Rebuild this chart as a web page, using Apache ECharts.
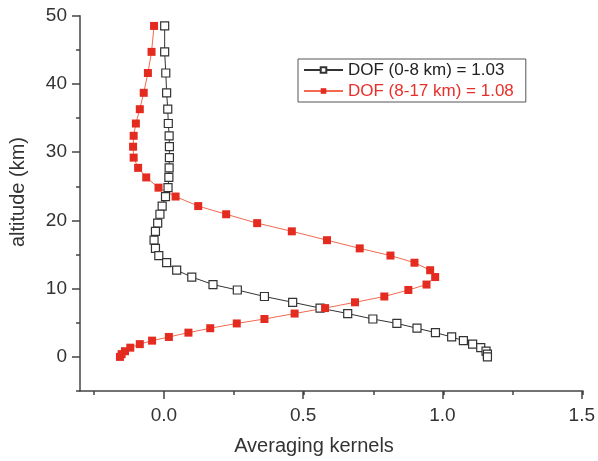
<!DOCTYPE html>
<html>
<head>
<meta charset="utf-8">
<script src="https://cdn.jsdelivr.net/npm/echarts@6/dist/echarts.min.js"></script>
<style>
html,body{margin:0;padding:0;background:#fff;}
#chart{width:598px;height:461px;}
</style>
</head>
<body>
<div id="chart"></div>
<script>
// ---- data ----
var altitudes = [48.5, 44.7, 41.6, 38.7, 36.3, 34.2, 32.4, 30.8, 29.2, 27.7,
  26.3, 24.8, 23.5, 22.1, 20.9, 19.6, 18.4, 17.1, 15.9, 14.85,
  13.8, 12.7, 11.7, 10.6, 9.8, 8.85, 8.0, 7.15, 6.35, 5.55,
  4.9, 4.2, 3.55, 2.92, 2.38, 1.87, 1.35, 0.83, 0.4, 0.0];
var akLow = [0.003, 0.003, 0.007, 0.010, 0.014, 0.016, 0.019, 0.020, 0.020, 0.019,
  0.018, 0.015, 0.006, -0.006, -0.014, -0.022, -0.030, -0.035, -0.030, -0.018,
  0.010, 0.046, 0.100, 0.176, 0.263, 0.360, 0.461, 0.559, 0.658, 0.748,
  0.834, 0.906, 0.972, 1.030, 1.072, 1.105, 1.134, 1.153, 1.158, 1.158];
var akHigh = [-0.035, -0.044, -0.057, -0.072, -0.086, -0.100, -0.108, -0.110, -0.108, -0.092,
  -0.063, -0.019, 0.042, 0.123, 0.223, 0.334, 0.458, 0.584, 0.701, 0.811,
  0.897, 0.953, 0.971, 0.940, 0.875, 0.789, 0.684, 0.577, 0.468, 0.360,
  0.261, 0.166, 0.088, 0.018, -0.042, -0.086, -0.120, -0.139, -0.151, -0.157];
var seriesNames = ['DOF (0-8 km) = 1.03', 'DOF (8-17 km) = 1.08'];
var xTitle = 'Averaging kernels';
var yTitle = 'altitude (km)';

function pairs(xs, ys) {
  return xs.map(function (v, i) { return [v, ys[i]]; });
}

var FONT = '"Liberation Sans", Arial, Helvetica, sans-serif';
var AXC = '#444';

// plot frame in pixels
var L = 80, R = 583, T = 15.7, B = 391;
var XMIN = -0.3, XMAX = 1.5, YMIN = -5, YMAX = 50;
function px(v) { return L + (v - XMIN) / (XMAX - XMIN) * (R - L); }
function py(v) { return B - (v - YMIN) / (YMAX - YMIN) * (B - T); }

var chart = echarts.init(document.getElementById('chart'), null, {renderer: 'canvas'});
var option = {
  animation: false,
  backgroundColor: '#fff',
  grid: [
    {left: L, right: 598 - R, top: T, bottom: 461 - B},
    {left: px(-0.25), right: 598 - R, top: T, bottom: 461 - B},
    {left: px(0), right: 598 - R, top: T, bottom: 461 - py(0)}
  ],
  xAxis: [
    {gridIndex: 0, type: 'value', min: XMIN, max: XMAX,
      axisLine: {show: true, onZero: false, lineStyle: {color: AXC, width: 1.5}},
      axisTick: {show: false}, axisLabel: {show: false}, splitLine: {show: false}},
    {gridIndex: 1, type: 'value', min: -0.25, max: 1.5, interval: 0.25,
      axisLine: {show: false, onZero: false},
      axisTick: {show: true, length: 4, lineStyle: {color: AXC, width: 1.5}},
      axisLabel: {show: false}, splitLine: {show: false}},
    {gridIndex: 2, type: 'value', min: 0, max: 1.5, interval: 0.5, offset: B - py(0),
      axisLine: {show: false, onZero: false},
      axisTick: {show: true, length: 8, lineStyle: {color: AXC, width: 1.5}},
      axisLabel: {show: true, margin: 15, fontSize: 19, color: '#333', fontFamily: FONT,
        formatter: function (v) { return v.toFixed(1); }},
      splitLine: {show: false}}
  ],
  yAxis: [
    {gridIndex: 0, type: 'value', min: YMIN, max: YMAX, interval: 5,
      axisLine: {show: true, onZero: false, lineStyle: {color: AXC, width: 1.5}},
      axisTick: {show: true, length: 4, lineStyle: {color: AXC, width: 1.5}},
      axisLabel: {show: false}, splitLine: {show: false}},
    {gridIndex: 1, type: 'value', min: YMIN, max: YMAX, show: false},
    {gridIndex: 2, type: 'value', min: 0, max: 50, interval: 10, offset: px(0) - L,
      axisLine: {show: false, onZero: false},
      axisTick: {show: true, length: 8, lineStyle: {color: AXC, width: 1.5}},
      axisLabel: {show: true, margin: 13, fontSize: 19, color: '#333', fontFamily: FONT},
      splitLine: {show: false}}
  ],
  legend: {
    orient: 'vertical', left: 298, top: 59,
    padding: [1, 12, 1, 5], itemGap: 1, itemWidth: 39, itemHeight: 7,
    borderColor: '#555', borderWidth: 1, backgroundColor: '#fff',
    textStyle: {fontSize: 17, fontFamily: FONT, lineHeight: 20},
    data: [
      {name: seriesNames[0], textStyle: {color: '#222'}},
      {name: seriesNames[1], textStyle: {color: '#e8302a'}}
    ]
  },
  graphic: [
    {type: 'text', x: 314, y: 446, silent: true,
      style: {text: xTitle, fontSize: 20, fontFamily: FONT, fill: '#333',
        align: 'center', verticalAlign: 'middle', textAlign: 'center', textVerticalAlign: 'middle'}},
    {type: 'text', x: 18, y: 192, rotation: Math.PI / 2, silent: true,
      style: {text: yTitle, fontSize: 20, fontFamily: FONT, fill: '#333',
        align: 'center', verticalAlign: 'middle', textAlign: 'center', textVerticalAlign: 'middle'}}
  ],
  series: [
    {name: seriesNames[0], type: 'line', xAxisIndex: 0, yAxisIndex: 0,
      data: pairs(akLow, altitudes), symbol: 'rect', symbolSize: 8,
      itemStyle: {color: '#fff', borderColor: '#333', borderWidth: 1.2},
      lineStyle: {color: '#333', width: 1}},
    {name: seriesNames[1], type: 'line', xAxisIndex: 0, yAxisIndex: 0,
      data: pairs(akHigh, altitudes), symbol: 'rect', symbolSize: 8,
      itemStyle: {color: '#e32b20'},
      lineStyle: {color: '#f26a4f', width: 1}}
  ]
};
chart.setOption(option);
</script>
</body>
</html>
